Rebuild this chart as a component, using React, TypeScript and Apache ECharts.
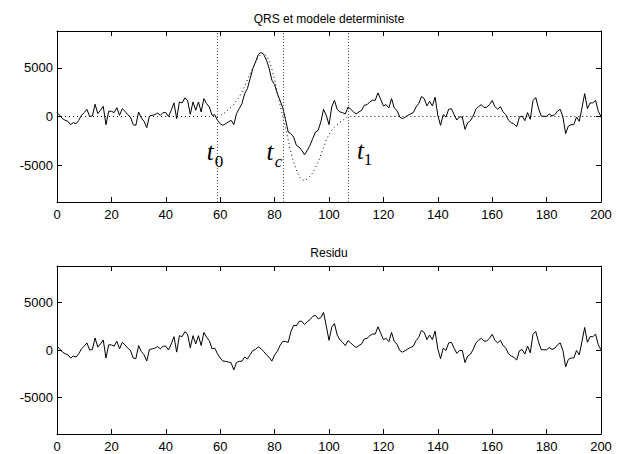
import React, { useEffect, useRef } from "react";
import * as echarts from "echarts";

// Measured signal (QRS), one value per sample 0..200
const signal = [
  400, 120, -220, -390, -500, -840, -630, -740, -390, 120,
  400, 740, 0, 50, 1260, 300, 640, 1050, -840, 540,
  540, 400, 915, 120, 810, 540, 190, -50, -840, -910,
  460, -150, -500, -1150, 50, 120, 190, 360, 120, 400,
  400, 0, 640, 1400, -220, 1500, 1400, 1910, 1670, 230,
  1500, 640, 1500, 470, 1840, 1330, 980, 120, 190, -390,
  -740, -910, -740, -560, -390, -840, 300, 810, 1330, 2360,
  2870, 3900, 4940, 5620, 6380, 6590, 6380, 5800, 4940, 3730,
  3290, 2360, 1670, 900, -300, -1600, -1770, -2110, -2970, -3150,
  -3490, -3940, -3490, -2970, -2290, -1600, -1430, -560, 740, 120,
  -840, 980, 1670, 740, 470, 400, 260, 980, 740, 470,
  260, 470, 640, 1160, 1220, 1500, 1670, 1670, 2430, 1770,
  1090, 1220, 880, 1840, 880, 610, -50, -220, -80, 120,
  260, 400, 980, 1330, 2050, 1840, 1090, 1570, 1090, 1980,
  120, -910, 190, -50, 740, 810, 190, -360, -50, -50,
  -1320, -640, -430, 50, 740, 1020, 1220, 920, 950, 1220,
  1640, 1020, 740, 1020, 470, 190, -390, -640, -770, -1050,
  -80, 50, -430, 400, -290, 1640, 1950, 880, 50, 20,
  20, 260, 50, 190, 540, 740, -50, -1770, -980, -840,
  -840, -50, -500, 880, 2360, 810, 1400, 1400, 1670, 540,
  20,
];

// Deterministic model between t0 and t1 (zero elsewhere)
const modelStart = 59;
const modelCore = [
  0, 100, 250, 450, 700, 950, 1250, 1600, 2000, 2500,
  3100, 3800, 4400, 5000, 5550, 6050, 6450, 6550, 6300, 5700,
  4900, 3800, 2500, 1200, 0, -1200, -2400, -3700, -4700, -5500,
  -6150, -6500, -6600, -6450, -6150, -5800, -5250, -4700, -3950, -3200,
  -2400, -1850, -1400, -1100, -850, -600, -400, -200, 0,
];

const markerX = [59, 83, 107];
const markerMain = ["t", "t", "t"];
const markerSub = ["0", "c", "1"];
const mainLabelX = [56.3, 78.3, 111.6];
const mainLabelY = [-3650, -3650, -3500];
const subLabelX = [59.6, 81.4, 114.3];
const subLabelY = [-4600, -4600, -4400];

const yTicks = [-5000, 0, 5000];
const xMin = 0;
const xMax = 200;
const xStep = 20;
const yMin = -8800;
const yMax = 8800;

const titles = ["QRS et modele deterministe", "Residu"];

const SANS = "'Liberation Sans', Arial, Helvetica, sans-serif";
const SERIF = "'Liberation Serif', 'Times New Roman', serif";

function xAx(gridIndex: number, position: string, showLabel: boolean) {
  return {
    type: "value",
    gridIndex,
    position,
    min: xMin,
    max: xMax,
    interval: xStep,
    axisLine: { show: true, onZero: false, lineStyle: { color: "#000", width: 1 } },
    axisTick: { show: true, inside: true, length: 5, lineStyle: { color: "#000", width: 1 } },
    axisLabel: { show: showLabel, color: "#000", fontSize: 13, fontFamily: SANS, margin: 6 },
    splitLine: { show: false },
  };
}

function yAx(gridIndex: number, position: string, showLabel: boolean) {
  return {
    type: "value",
    gridIndex,
    position,
    min: yMin,
    max: yMax,
    axisLine: { show: true, onZero: false, lineStyle: { color: "#000", width: 1 } },
    axisTick: { show: true, inside: true, length: 5, customValues: yTicks, lineStyle: { color: "#000", width: 1 } },
    axisLabel: {
      show: showLabel,
      customValues: yTicks,
      color: "#000",
      fontSize: 13,
      fontFamily: SANS,
      margin: 4,
      formatter: (v: number) => String(v),
    },
    splitLine: { show: false },
  };
}

export default function App() {
  const ref = useRef<HTMLDivElement>(null);

  useEffect(() => {
    if (!ref.current) return;
    const chart = echarts.init(ref.current, undefined, { renderer: "svg" });

    const model = signal.map((_, i) =>
      i >= modelStart && i < modelStart + modelCore.length ? modelCore[i - modelStart] : 0
    );
    const sigData = signal.map((v, i) => [i, v]);
    const modelData = model.map((v, i) => [i, v]);
    const resData = signal.map((v, i) => [i, v - model[i]]);

    const markPointData: any[] = [];
    for (let k = 0; k < markerX.length; k++) {
      markPointData.push({
        coord: [mainLabelX[k], mainLabelY[k]],
        label: {
          formatter: markerMain[k],
          fontSize: 25,
          fontStyle: "italic",
          fontFamily: SERIF,
          color: "#000",
        },
      });
      markPointData.push({
        coord: [subLabelX[k], subLabelY[k]],
        label: {
          formatter: markerSub[k],
          fontSize: 17,
          fontStyle: markerSub[k] === "c" ? "italic" : "normal",
          fontFamily: SERIF,
          color: "#000",
        },
      });
    }

    const gridL = 57;
    const gridW = 544;

    chart.setOption({
      animation: false,
      backgroundColor: "#fff",
      grid: [
        { left: gridL, top: 31, width: gridW, height: 171, containLabel: false },
        { left: gridL, top: 266, width: gridW, height: 168, containLabel: false },
      ],
      xAxis: [xAx(0, "bottom", true), xAx(0, "top", false), xAx(1, "bottom", true), xAx(1, "top", false)],
      yAxis: [yAx(0, "left", true), yAx(0, "right", false), yAx(1, "left", true), yAx(1, "right", false)],
      graphic: [
        {
          type: "text",
          x: gridL + gridW / 2,
          y: 19,
          style: {
            text: titles[0],
            fill: "#000",
            font: `12px ${SANS}`,
            align: "center",
            verticalAlign: "middle",
            textAlign: "center",
            textVerticalAlign: "middle",
          },
        },
        {
          type: "text",
          x: gridL + gridW / 2,
          y: 253,
          style: {
            text: titles[1],
            fill: "#000",
            font: `12px ${SANS}`,
            align: "center",
            verticalAlign: "middle",
            textAlign: "center",
            textVerticalAlign: "middle",
          },
        },
      ],
      series: [
        {
          name: "model",
          type: "line",
          xAxisIndex: 0,
          yAxisIndex: 0,
          data: modelData,
          showSymbol: false,
          symbol: "none",
          lineStyle: { color: "#000", width: 1, type: [1, 3] },
          z: 2,
          markLine: {
            silent: true,
            symbol: "none",
            label: { show: false },
            lineStyle: { color: "#555", width: 1, type: [1, 2] },
            data: markerX.map((x) => ({ xAxis: x })),
          },
        },
        {
          name: "signal",
          type: "line",
          xAxisIndex: 0,
          yAxisIndex: 0,
          data: sigData,
          showSymbol: false,
          symbol: "none",
          lineStyle: { color: "#000", width: 1 },
          z: 3,
          markPoint: {
            silent: true,
            symbol: "circle",
            symbolSize: 0,
            itemStyle: { color: "transparent" },
            label: { show: true, position: "inside" },
            data: markPointData,
          },
        },
        {
          name: "residu",
          type: "line",
          xAxisIndex: 2,
          yAxisIndex: 2,
          data: resData,
          showSymbol: false,
          symbol: "none",
          lineStyle: { color: "#000", width: 1 },
        },
      ],
    });

    return () => chart.dispose();
  }, []);

  return (
    <div
      ref={ref}
      style={{ position: "absolute", left: 0, top: 0, width: 618, height: 454, background: "#fff" }}
    />
  );
}
